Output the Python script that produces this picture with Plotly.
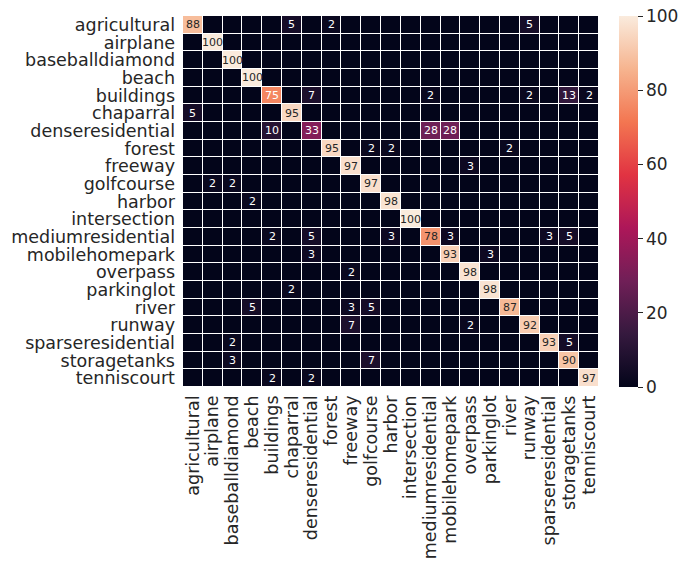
import numpy as np
import plotly.graph_objects as go

classes = ["agricultural", "airplane", "baseballdiamond", "beach", "buildings",
           "chaparral", "denseresidential", "forest", "freeway", "golfcourse",
           "harbor", "intersection", "mediumresidential", "mobilehomepark",
           "overpass", "parkinglot", "river", "runway", "sparseresidential",
           "storagetanks", "tenniscourt"]

# Non-zero entries of the confusion matrix (percent), per true class:
# (predicted class, value)
row_agricultural = [("agricultural", 88), ("chaparral", 5), ("forest", 2), ("runway", 5)]
row_airplane = [("airplane", 100)]
row_baseballdiamond = [("baseballdiamond", 100)]
row_beach = [("beach", 100)]
row_buildings = [("buildings", 75), ("denseresidential", 7), ("mediumresidential", 2),
                 ("runway", 2), ("storagetanks", 13), ("tenniscourt", 2)]
row_chaparral = [("agricultural", 5), ("chaparral", 95)]
row_denseresidential = [("buildings", 10), ("denseresidential", 33),
                        ("mediumresidential", 28), ("mobilehomepark", 28)]
row_forest = [("forest", 95), ("golfcourse", 2), ("harbor", 2), ("river", 2)]
row_freeway = [("freeway", 97), ("overpass", 3)]
row_golfcourse = [("airplane", 2), ("baseballdiamond", 2), ("golfcourse", 97)]
row_harbor = [("beach", 2), ("harbor", 98)]
row_intersection = [("intersection", 100)]
row_mediumresidential = [("buildings", 2), ("denseresidential", 5), ("harbor", 3),
                         ("mediumresidential", 78), ("mobilehomepark", 3),
                         ("sparseresidential", 3), ("storagetanks", 5)]
row_mobilehomepark = [("denseresidential", 3), ("mobilehomepark", 93), ("parkinglot", 3)]
row_overpass = [("freeway", 2), ("overpass", 98)]
row_parkinglot = [("chaparral", 2), ("parkinglot", 98)]
row_river = [("beach", 5), ("freeway", 3), ("golfcourse", 5), ("river", 87)]
row_runway = [("freeway", 7), ("overpass", 2), ("runway", 92)]
row_sparseresidential = [("baseballdiamond", 2), ("sparseresidential", 93), ("storagetanks", 5)]
row_storagetanks = [("baseballdiamond", 3), ("golfcourse", 7), ("storagetanks", 90)]
row_tenniscourt = [("buildings", 2), ("denseresidential", 2), ("tenniscourt", 97)]

rows = [row_agricultural, row_airplane, row_baseballdiamond, row_beach, row_buildings,
        row_chaparral, row_denseresidential, row_forest, row_freeway, row_golfcourse,
        row_harbor, row_intersection, row_mediumresidential, row_mobilehomepark,
        row_overpass, row_parkinglot, row_river, row_runway, row_sparseresidential,
        row_storagetanks, row_tenniscourt]

n = len(classes)
z = np.zeros((n, n))
for i, entries in enumerate(rows):
    for name, v in entries:
        z[i, classes.index(name)] = v

# seaborn "rocket" colormap approximation
rocket_stops = [
    (0.0, (3, 5, 26)),
    (1 / 7, (53, 25, 62)),
    (2 / 7, (112, 31, 87)),
    (3 / 7, (173, 23, 89)),
    (4 / 7, (225, 51, 66)),
    (5 / 7, (243, 118, 81)),
    (6 / 7, (246, 180, 143)),
    (1.0, (250, 235, 221)),
]
colorscale = [[p, "rgb(%d,%d,%d)" % c] for p, c in rocket_stops]


def rocket(t):
    for (p0, c0), (p1, c1) in zip(rocket_stops[:-1], rocket_stops[1:]):
        if p0 <= t <= p1:
            f = (t - p0) / (p1 - p0)
            return [a + (b - a) * f for a, b in zip(c0, c1)]
    return list(rocket_stops[-1][1])


def luminance(rgb):
    ch = []
    for c in rgb:
        c = c / 255.0
        ch.append(c / 12.92 if c <= 0.03928 else ((c + 0.055) / 1.055) ** 2.4)
    return 0.2126 * ch[0] + 0.7152 * ch[1] + 0.0722 * ch[2]


annotations = []
for i in range(n):
    for j in range(n):
        v = z[i, j]
        if v <= 0:
            continue
        col = "#262626" if luminance(rocket(v / 100.0)) > 0.408 else "white"
        annotations.append(dict(x=classes[j], y=classes[i], text="%d" % v,
                                showarrow=False, xref="x", yref="y",
                                font=dict(size=11, color=col, family="DejaVu Sans")))

fig = go.Figure(go.Heatmap(
    z=z, x=classes, y=classes, zmin=0, zmax=100,
    colorscale=colorscale, xgap=1, ygap=1,
    colorbar=dict(
        thickness=19, len=1.0, lenmode="fraction", y=0.5, yanchor="middle",
        x=1.049, xanchor="left", xpad=0, ypad=0,
        outlinewidth=0, tickvals=[0, 20, 40, 60, 80, 100],
        ticks="outside", ticklen=5, tickwidth=1, tickcolor="#262626",
        tickfont=dict(size=17, color="#262626", family="DejaVu Sans"),
    ),
))

fig.update_layout(
    width=691, height=561,
    margin=dict(l=183, r=86, t=16, b=174),
    paper_bgcolor="white", plot_bgcolor="white",
    annotations=annotations,
    font=dict(family="DejaVu Sans", color="#262626"),
)
fig.update_xaxes(tickmode="array", tickvals=classes, ticktext=classes,
                 tickangle=-90, tickfont=dict(size=17.5, color="#262626"),
                 showgrid=False, zeroline=False, ticks="", ticklabelstandoff=4,
                 automargin=False)
fig.update_yaxes(tickmode="array", tickvals=classes, ticktext=classes,
                 autorange="reversed", tickfont=dict(size=17.5, color="#262626"),
                 showgrid=False, zeroline=False, ticks="", ticklabelstandoff=7,
                 automargin=False)

fig.write_html("out.html")
